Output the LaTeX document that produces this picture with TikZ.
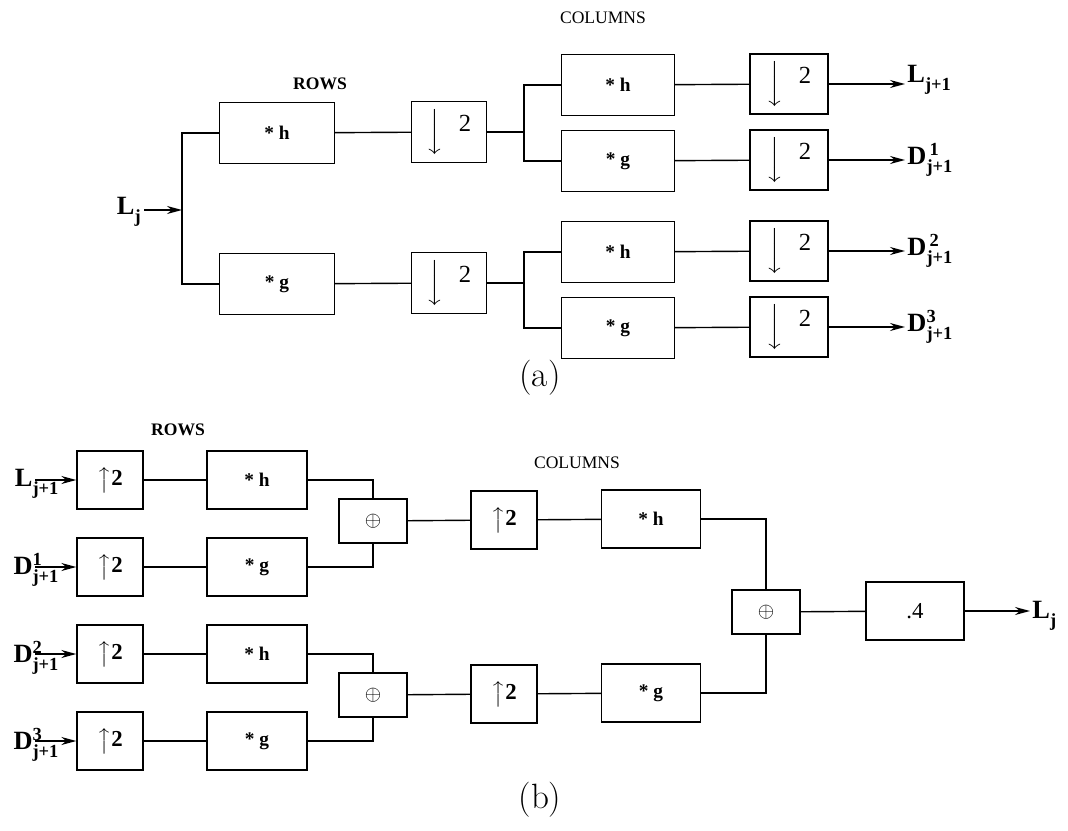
\documentclass[tikz,border=0pt]{standalone}
\usepackage{fontspec}
\usepackage{amsmath}
\usetikzlibrary{arrows.meta, positioning}
\newfontfamily\tms{Liberation Serif}
\newcommand{\sig}[3]{\textbf{#1}$^{\text{\textbf{#2}}}_{\text{\textbf{#3}}}$}
\newcommand{\sigin}[3]{\textbf{#1}\rlap{$^{\text{\textbf{#2}}}_{\text{\textbf{#3}}}$}}

\begin{document}
\begin{tikzpicture}[
			x=0.02cm, y=-0.02cm,
			line width=0.8pt,
			box/.style={rectangle, draw=black, line width=0.8pt, inner sep=0pt},
			rowfilt/.style={box, minimum width=2.3cm, minimum height=1.22cm, font=\tms\bfseries\fontsize{11}{13}\selectfont},
			colfilt/.style={box, minimum width=2.26cm, minimum height=1.22cm, font=\tms\bfseries\fontsize{11}{13}\selectfont},
			down/.style={box, minimum width=1.5cm, minimum height=1.22cm, font=\tms\fontsize{14}{16}\selectfont},
			up/.style={box, minimum width=1.32cm, minimum height=1.16cm, font=\tms\bfseries\fontsize{13}{15}\selectfont},
			synth/.style={box, minimum width=2cm, minimum height=1.16cm, font=\tms\bfseries\fontsize{11}{13}\selectfont},
			adder/.style={box, minimum width=1.36cm, minimum height=0.88cm, font=\large},
			sigl/.style={inner sep=1pt, font=\tms\fontsize{15}{17}\selectfont},
			head/.style={font=\tms\fontsize{10}{12}\selectfont},
			caption/.style={font=\fontsize{20}{24}\selectfont},
			arrow/.style={-{Stealth[length=3mm, width=1.6mm]}, line width=0.8pt}
			]
			\useasboundingbox (0,0) rectangle (1068,831);
			
			% (a) decomposition
			\node[head] (colsa) at (603,18) {COLUMNS};
			\node[head, font=\tms\bfseries\fontsize{10}{12}\selectfont] (rowsa) at (320,84) {ROWS};
			\node[sigl, anchor=east] (lin) at (144,212) {\sig{L}{}{j}};
			\coordinate (split) at (182,210);
			\node[rowfilt] (rh) at (277,133) {* h};
			\node[rowfilt] (rg) at (277,284) {* g};
			\node[down] (dh) at (449,132) {$\Big\downarrow$\hspace{0.3cm}\raisebox{0.6ex}{2}};
			\node[down] (dg) at (449,283) {$\Big\downarrow$\hspace{0.3cm}\raisebox{0.6ex}{2}};
			\coordinate (splh) at (524,132);
			\coordinate (splg) at (524,283);
			\node[colfilt] (hh) at (618,85) {* h};
			\node[colfilt] (hg) at (618,161) {* g};
			\node[colfilt] (gh) at (618,252) {* h};
			\node[colfilt] (gg) at (618,328) {* g};
			\foreach \n/\y in {1/84,2/160,3/251,4/327}
				\node[down, minimum width=1.56cm, minimum height=1.2cm] (d\n) at (789,\y) {$\Big\downarrow$\hspace{0.3cm}\raisebox{0.6ex}{2}};
			\node[sigl, anchor=west] (o1) at (905,80) {\sig{L}{}{j+1}};
			\node[sigl, anchor=west] (o2) at (905,160) {\sig{D}{\,1}{j+1}};
			\node[sigl, anchor=west] (o3) at (905,251) {\sig{D}{\,2}{j+1}};
			\node[sigl, anchor=west] (o4) at (905,327) {\sig{D}{3}{j+1}};
			
			\draw[arrow] (lin.east |- split) -- (split);
			\draw (rh.west) -| (split) |- (rg.west);
			\draw (rh) -- (dh);
			\draw (rg) -- (dg);
			\draw (dh) -- (splh);
			\draw (dg) -- (splg);
			\draw (hh.west) -| (splh) |- (hg.west);
			\draw (gh.west) -| (splg) |- (gg.west);
			\draw (hh) -- (d1);
			\draw (hg) -- (d2);
			\draw (gh) -- (d3);
			\draw (gg) -- (d4);
			\foreach \n in {1,...,4}
				\draw[arrow] (d\n.east) -- (d\n.east -| o\n.west);
			\node[caption] (capa) at (540,378) {(a)};
			
			% (b) reconstruction
			\node[head, font=\tms\bfseries\fontsize{10}{12}\selectfont] (rowsb) at (178,430) {ROWS};
			\node[head] (colsb) at (577,463) {COLUMNS};
			\node[sigl, anchor=east] (i1) at (35,484) {\sigin{L}{}{j+1}};
			\node[sigl, anchor=east] (i2) at (35,570) {\sigin{D}{1}{j+1}};
			\node[sigl, anchor=east] (i3) at (35,658) {\sigin{D}{2}{j+1}};
			\node[sigl, anchor=east] (i4) at (35,745) {\sigin{D}{3}{j+1}};
			\foreach \n/\y/\f in {1/480/h,2/567/g,3/654/h,4/741/g}{
				\node[up] (u\n) at (110,\y) {$\big\uparrow$2};
				\node[synth] (f\n) at (257,\y) {* \f};
				\draw[arrow] (u\n.west -| i\n.east) -- (u\n.west);
				\draw (u\n) -- (f\n);
			}
			\node[adder] (s1) at (373,521) {$\oplus$};
			\node[adder] (s2) at (373,695) {$\oplus$};
			\draw (f1.east) -| (s1.north);
			\draw (f2.east) -| (s1.south);
			\draw (f3.east) -| (s2.north);
			\draw (f4.east) -| (s2.south);
			\node[up] (cu1) at (504,520) {$\big\uparrow$2};
			\node[up] (cu2) at (504,694) {$\big\uparrow$2};
			\node[synth, minimum width=1.98cm] (cf1) at (651,519) {* h};
			\node[synth, minimum width=1.98cm] (cf2) at (651,693) {* g};
			\node[adder] (s3) at (766,612) {$\oplus$};
			\node[synth, minimum width=1.96cm, font=\tms\fontsize{13}{15}\selectfont] (gain) at (915,611) {.4};
			\node[sigl, anchor=west] (out) at (1030,616) {\sig{L}{}{j}};
			\draw (s1) -- (cu1);
			\draw (s2) -- (cu2);
			\draw (cu1) -- (cf1);
			\draw (cu2) -- (cf2);
			\draw (cf1.east) -| (s3.north);
			\draw (cf2.east) -| (s3.south);
			\draw (s3) -- (gain);
			\draw[arrow] (gain.east) -- (gain.east -| out.west);
			\node[caption] (capb) at (540,800) {(b)};
		\end{tikzpicture}
\end{document}
